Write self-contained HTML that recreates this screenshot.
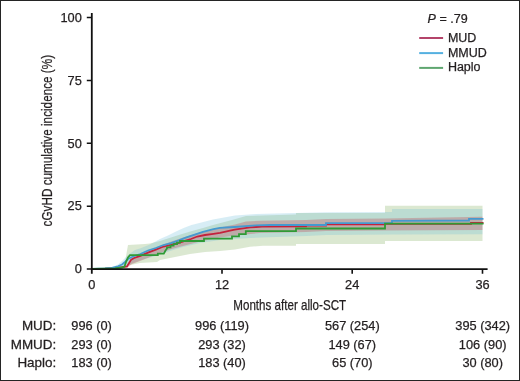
<!DOCTYPE html>
<html><head><meta charset="utf-8">
<style>
html,body{margin:0;padding:0;background:#fff;}
body{width:520px;height:381px;overflow:hidden;}
svg{display:block;will-change:transform;}
text{font-family:"Liberation Sans",sans-serif;fill:#231f20;stroke:#231f20;stroke-width:0.25px;}
</style></head>
<body>
<svg width="520" height="381" viewBox="0 0 520 381">
<rect x="0.5" y="0.5" width="519" height="380" fill="#fff" stroke="#242424" stroke-width="1"/>

<!-- CI bands -->
<g stroke="none">
<!-- green CI (Haplo) -->
<path fill="rgb(110,165,70)" fill-opacity="0.25" d="M92,269 L115,268.3 L122,266 L125,262 L128,245 L145,244 L150,243.5 L160,241 L171,237.5 L182,234 L192,231 L203,228 L213,225 L232,220 L246,216 L296,214.5 L296,213 L385,213 L385,205.8 L482.5,205.8
 L482.5,241 L385,241 L385,244 L296,244 L296,245.8 L263,245.8 L250,246.7 L235,249.5 L220,251 L205,252 L190,254 L175,257 L160,260 L157,262 L140,263 L128,265.5 L125,267.5 L115,268.7 L92,269 Z"/>
<!-- blue CI (MMUD) -->
<path fill="rgb(95,185,215)" fill-opacity="0.25" d="M92,269 L112,267 L118,264.5 L122,261 L128,255 L135,250 L140,248.5 L150,244.5 L160,239 L168,235.5 L176,231.5 L183.6,228 L191.5,225 L199.4,223 L213,219.5 L235,215.5 L256,214 L296,213 L326,212.3 L392,212 L392,209 L482.5,209
 L482.5,234.2 L392,234.5 L326,235 L306,236 L250,238 L220,240 L200,243 L183,247 L170,251 L160,254.5 L150,257.5 L140,260.5 L128,265 L122,267.5 L112,268.5 L92,269 Z"/>
<!-- red CI (MUD) -->
<path fill="rgb(193,47,65)" fill-opacity="0.28" d="M92,269 L127,266 L132,258 L140,254.5 L150,250 L160,246 L170,242 L183,237.5 L200,232.5 L220,227.5 L235,224.5 L246,221.5 L260,220.7 L306,220 L326,219 L385,218.5 L482.5,216.8
 L482.5,230 L385,230.5 L326,231 L306,232 L260,233 L240,235 L220,237.5 L200,241.5 L183,246 L170,249.5 L160,253 L150,257 L140,261 L132,264 L127,268 L92,269 Z"/>
</g>

<!-- curves -->
<g fill="none" stroke-width="1.8" stroke-linejoin="miter">
<path stroke="#c4213c" d="M92,269 L105,268.7 L115,268 L122,267.2 L127,266.5 L128.8,263.5 L131.2,259.6 L134.2,258 L140.4,255.8 L148,252.7 L155.8,249.6 L163.5,246.5 L171,244.8 L178.8,242.8 L186.5,240.4 L191,239 L197.3,236.5 L205,235 L213.5,233.8 L220,232.8 L234.6,229.6 L250,227.4 L256,227 L262,226.7 L306,226.4 L306,225.5 L326,225.5 L326,224.4 L385,224.4 L385,223.9 L471,223.9 L471,222.9 L483.5,222.9"/>
<path stroke="#4599cf" d="M92,269 L105,268.5 L112,267.8 L118,266.3 L122,264.5 L125,262 L128,259 L133,256.5 L140.4,254 L148,250.5 L155.8,248 L163.5,245 L171,243.2 L178.8,240.4 L186.5,237.4 L194,234.8 L203,231.8 L213.5,229.2 L220,227.8 L234.6,227 L255.8,225.4 L270,225 L326,225 L326,223.1 L392,223 L392,220.8 L469,220.5 L469,218.8 L483.5,218.8"/>
<path stroke="#2f9a35" d="M92,269 L115,268.3 L122,267.5 L124.5,266.5 L126,262 L128,257.5 L130,255.2 L157.8,255.2 L157.8,253.6 L163.8,253.6 L165.5,250.5 L167,248.5 L167,247.3 L170.5,247.3 L170.5,245.7 L173.6,245.7 L173.6,244.2 L177,244.2 L177,242.6 L180,242.6 L180,241 L204,241 L204,238.7 L232,238.7 L232,236.4 L239,236.4 L239,234.2 L245.8,234.2 L245.8,231.2 L296,231.2 L296,228.5 L385,228.5 L385,223.6 L483.5,223.6"/>
</g>

<!-- axes -->
<g stroke="#111" stroke-width="1.8" fill="none">
<path d="M91.8,13 L91.8,273.8"/>
<path d="M90.9,269.1 L487.6,269.1"/>
<path stroke-width="1.5" d="M86.8,17.5 H91 M86.8,80.4 H91 M86.8,143.3 H91 M86.8,206.2 H91 M86.8,269.1 H91"/>
<path stroke-width="1.6" d="M222,269 V273.8 M352.2,269 V273.8 M482.5,269 V273.8"/>
</g>

<!-- y tick labels -->
<g font-size="12.8" text-anchor="end">
<text x="81.8" y="21.6">100</text>
<text x="81.8" y="84.6">75</text>
<text x="81.8" y="147.5">50</text>
<text x="81.8" y="210.4">25</text>
<text x="81.8" y="273.2">0</text>
</g>
<!-- x tick labels -->
<g font-size="12.8" text-anchor="middle">
<text x="91.8" y="289.4">0</text>
<text x="222" y="289.4">12</text>
<text x="352.2" y="289.4">24</text>
<text x="482.5" y="289.4">36</text>
</g>
<text x="233.3" y="310.2" font-size="14.6" textLength="112.8" lengthAdjust="spacingAndGlyphs">Months after allo-SCT</text>
<text transform="translate(51.9,226.4) rotate(-90)" font-size="14.6" textLength="171.5" lengthAdjust="spacingAndGlyphs">cGvHD cumulative incidence (%)</text>

<!-- legend -->
<text transform="translate(427.6,23.1) scale(0.93,1)" font-size="13.5"><tspan font-style="italic">P</tspan> = .79</text>
<g stroke-width="2" fill="none">
<path stroke="#b4446a" d="M419.2,38 H443.1"/>
<path stroke="#55b0e0" d="M419.2,53.1 H443.1"/>
<path stroke="#5fa670" d="M419.2,67.9 H443.1"/>
</g>
<g font-size="12.5">
<text x="447.9" y="41.5">MUD</text>
<text x="447.9" y="56.7">MMUD</text>
<text x="447.9" y="71.4">Haplo</text>
</g>

<!-- number at risk table -->
<g font-size="12.8" text-anchor="end" transform="translate(56.2,0) scale(1.05,1)">
<text x="0" y="330">MUD:</text>
<text x="0" y="348.7">MMUD:</text>
<text x="0" y="367.3">Haplo:</text>
</g>
<g font-size="12.8" text-anchor="middle">
<text x="91.6" y="330">996 (0)</text>
<text x="91.6" y="348.7">293 (0)</text>
<text x="91.6" y="367.3">183 (0)</text>
<text x="222" y="330">996 (119)</text>
<text x="222" y="348.7">293 (32)</text>
<text x="222" y="367.3">183 (40)</text>
<text x="352.3" y="330">567 (254)</text>
<text x="352.3" y="348.7">149 (67)</text>
<text x="352.3" y="367.3">65 (70)</text>
<text x="482.7" y="330">395 (342)</text>
<text x="482.7" y="348.7">106 (90)</text>
<text x="482.7" y="367.3">30 (80)</text>
</g>
</svg>
</body></html>
